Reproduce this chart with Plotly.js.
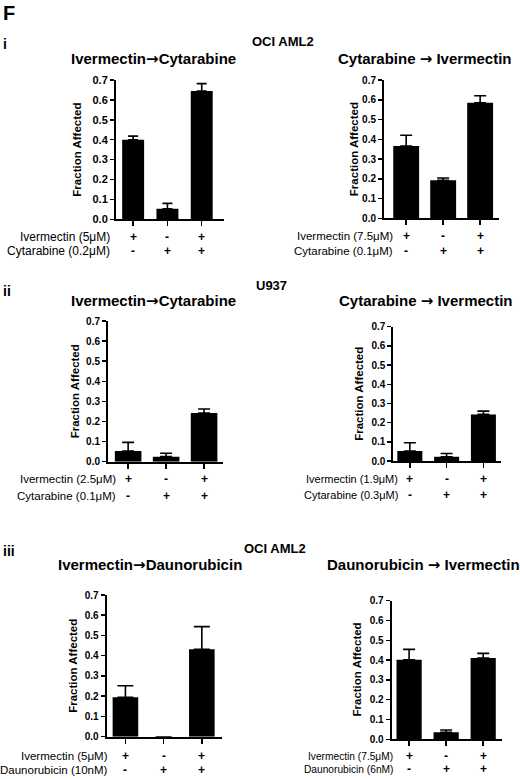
<!DOCTYPE html>
<html>
<head>
<meta charset="utf-8">
<script src="https://cdn.plot.ly/plotly-3.0.1.min.js"></script>
<style>html,body{margin:0;padding:0;background:#fff;}#chart{width:520px;height:779px;}</style>
</head>
<body>
<div id="chart"></div>
<script>
// ---------------- DATA ----------------
const categories = ['Drug A alone', 'Drug B alone', 'Drug A + Drug B'];

// (i) OCI AML2, Ivermectin -> Cytarabine
const p1Mean = [0.400, 0.053, 0.645];
const p1Err  = [0.018, 0.027, 0.037];
// (i) OCI AML2, Cytarabine -> Ivermectin
const p2Mean = [0.366, 0.192, 0.585];
const p2Err  = [0.054, 0.012, 0.035];
// (ii) U937, Ivermectin -> Cytarabine
const p3Mean = [0.053, 0.025, 0.242];
const p3Err  = [0.043, 0.017, 0.020];
// (ii) U937, Cytarabine -> Ivermectin
const p4Mean = [0.052, 0.022, 0.243];
const p4Err  = [0.043, 0.017, 0.017];
// (iii) OCI AML2, Ivermectin -> Daunorubicin
const p5Mean = [0.195, 0.000, 0.432];
const p5Err  = [0.057, 0.000, 0.112];
// (iii) OCI AML2, Daunorubicin -> Ivermectin
const p6Mean = [0.402, 0.035, 0.410];
const p6Err  = [0.052, 0.012, 0.024];

const ivmSigns = ['+', '-', '+'];
const otherSigns = ['-', '+', '+'];

const titleParts = [
  ['Ivermectin', '', 'Cytarabine'], ['Cytarabine', ' ', 'Ivermectin'],
  ['Ivermectin', '', 'Cytarabine'], ['Cytarabine', ' ', 'Ivermectin'],
  ['Ivermectin', '', 'Daunorubicin'], ['Daunorubicin', ' ', 'Ivermectin']
];
const rowLabels = [
  ['Ivermectin (5\u03bcM)', 'Cytarabine (0.2\u03bcM)'],
  ['Ivermectin (7.5\u03bcM)', 'Cytarabine (0.1\u03bcM)'],
  ['Ivermectin (2.5\u03bcM)', 'Cytarabine (0.1\u03bcM)'],
  ['Ivermectin (1.9\u03bcM)', 'Cytarabine (0.3\u03bcM)'],
  ['Ivermectin (5\u03bcM)', 'Daunorubicin (10nM)'],
  ['Ivermectin (7.5\u03bcM)', 'Daunorubicin (6nM)']
];
const yTitle = 'Fraction Affected';
const sectionLabels = ['i', 'ii', 'iii'];
const cellLines = ['OCI AML2', 'U937', 'OCI AML2'];
const figLetter = 'F';

// ---------------- LAYOUT CONFIG ----------------
const W = 520, H = 779;
const FONT = 'Liberation Sans, Arial, Helvetica, sans-serif';
const px = v => v / W;
const py = v => 1 - v / H;
const ARROW = '<span style="font-family:DejaVu Sans">\u2192</span>';

const panels = [
  {mean: p1Mean, err: p1Err, x0: 116, x1: 224, yTop: 80, yBot: 219.3, xr: [-0.5, 2.65], bw: 0.64, cap: 5,
   title: [153.5, 59.5], ytl: 77, rows: [237, 251], rowRight: 112, tick: 11, rowFont: 12},
  {mean: p2Mean, err: p2Err, x0: 384, x1: 499, yTop: 80, yBot: 218.3, xr: [-0.6, 2.51], bw: 0.7, cap: 6,
   title: [425, 59.5], ytl: 354, rows: [236, 250.5], rowRight: 395, tick: 10, rowFont: 11.5},
  {mean: p3Mean, err: p3Err, x0: 108, x1: 222.7, yTop: 321, yBot: 461.7, xr: [-0.53, 2.49], bw: 0.7, cap: 6,
   title: [153.5, 301], ytl: 75, rows: [479, 496], rowRight: 118, tick: 10, rowFont: 11.5},
  {mean: p4Mean, err: p4Err, x0: 393.3, x1: 500.7, yTop: 326.7, yBot: 461, xr: [-0.45, 2.47], bw: 0.68, cap: 6,
   title: [425.5, 301], ytl: 359, rows: [479, 495], rowRight: 400, tick: 10, rowFont: 11},
  {mean: p5Mean, err: p5Err, x0: 106.7, x1: 221.7, yTop: 595, yBot: 736.7, xr: [-0.49, 2.52], bw: 0.67, cap: 8,
   title: [149.5, 565], ytl: 73, rows: [756, 770], rowRight: 110, tick: 10, rowFont: 11.5},
  {mean: p6Mean, err: p6Err, x0: 391.7, x1: 501.7, yTop: 600.7, yBot: 739.3, xr: [-0.47, 2.5], bw: 0.68, cap: 6,
   title: [423, 565], ytl: 356.5, rows: [756, 769], rowRight: 395, tick: 10, rowFont: 10.2}
];

const traces = [];
const layout = {
  width: W, height: H, autosize: false,
  margin: {l: 0, r: 0, t: 0, b: 0, pad: 0},
  paper_bgcolor: '#fff', plot_bgcolor: '#fff',
  showlegend: false,
  font: {family: FONT, color: '#000'},
  annotations: []
};

panels.forEach((p, i) => {
  const n = i + 1;
  const xa = 'xaxis' + (n === 1 ? '' : n);
  const ya = 'yaxis' + (n === 1 ? '' : n);
  const xr = 'x' + (n === 1 ? '' : n);
  const yr = 'y' + (n === 1 ? '' : n);
  traces.push({
    type: 'bar', x: categories, y: p.mean, xaxis: xr, yaxis: yr,
    width: p.bw, marker: {color: '#000', line: {width: 0}},
    error_y: {type: 'data', symmetric: false, array: p.err, arrayminus: p.mean.map(() => 0),
              color: '#000', thickness: 1.6, width: p.cap},
    hoverinfo: 'none'
  });
  layout[xa] = {
    domain: [px(p.x0), px(p.x1)], anchor: yr, type: 'category',
    range: p.xr, showline: true, linewidth: 2, linecolor: '#000', mirror: false,
    ticks: 'outside', ticklen: 5, tickwidth: 1.5, tickcolor: '#000',
    showticklabels: false, showgrid: false, zeroline: false, fixedrange: true
  };
  layout[ya] = {
    domain: [py(p.yBot), py(p.yTop)], anchor: xr,
    range: [0, 0.7], dtick: 0.1, tick0: 0, tickformat: '.1f',
    showline: true, linewidth: 2, linecolor: '#000',
    ticks: 'outside', ticklen: 4, tickwidth: 1.5, tickcolor: '#000',
    tickfont: {family: FONT, size: p.tick, weight: 700, color: '#000'},
    showgrid: false, zeroline: false, fixedrange: true
  };
  const tp = titleParts[i];
  layout.annotations.push({
    xref: 'paper', yref: 'paper', x: px(p.title[0]), y: py(p.title[1]),
    xanchor: 'center', yanchor: 'middle', showarrow: false,
    text: tp[0] + tp[1] + ARROW + tp[1] + tp[2], font: {family: FONT, size: 15, weight: 700}
  });
  layout.annotations.push({
    xref: 'paper', yref: 'paper', x: px(p.ytl), y: py((p.yTop + p.yBot) / 2),
    xanchor: 'center', yanchor: 'middle', showarrow: false, textangle: -90,
    text: yTitle, font: {family: FONT, size: 11.5, weight: 700}
  });
  [ivmSigns, otherSigns].forEach((signs, r) => {
    layout.annotations.push({
      xref: 'paper', yref: 'paper', x: px(p.rowRight), y: py(p.rows[r]),
      xanchor: 'right', yanchor: 'middle', showarrow: false,
      text: rowLabels[i][r], font: {family: FONT, size: p.rowFont}
    });
    signs.forEach((s, k) => {
      layout.annotations.push({
        xref: xr, yref: 'paper', x: k, y: py(p.rows[r]),
        xanchor: 'center', yanchor: 'middle', showarrow: false,
        text: s, font: {family: FONT, size: 12, weight: 700}
      });
    });
  });
});

layout.annotations.push({xref: 'paper', yref: 'paper', x: px(1), y: py(13), xanchor: 'left', yanchor: 'middle',
  showarrow: false, text: figLetter, font: {family: FONT, size: 20, weight: 700}});
const secY = [44, 291, 551];
const cellX = [283, 271.5, 275];
const cellY = [41.7, 285, 548];
sectionLabels.forEach((s, k) => {
  layout.annotations.push({xref: 'paper', yref: 'paper', x: px(1), y: py(secY[k]), xanchor: 'left', yanchor: 'middle',
    showarrow: false, text: s, font: {family: FONT, size: 14, weight: 700}});
  layout.annotations.push({xref: 'paper', yref: 'paper', x: px(cellX[k]), y: py(cellY[k]), xanchor: 'center', yanchor: 'middle',
    showarrow: false, text: cellLines[k], font: {family: FONT, size: 13, weight: 700}});
});

Plotly.newPlot('chart', traces, layout, {staticPlot: true, displayModeBar: false});
</script>
</body>
</html>
